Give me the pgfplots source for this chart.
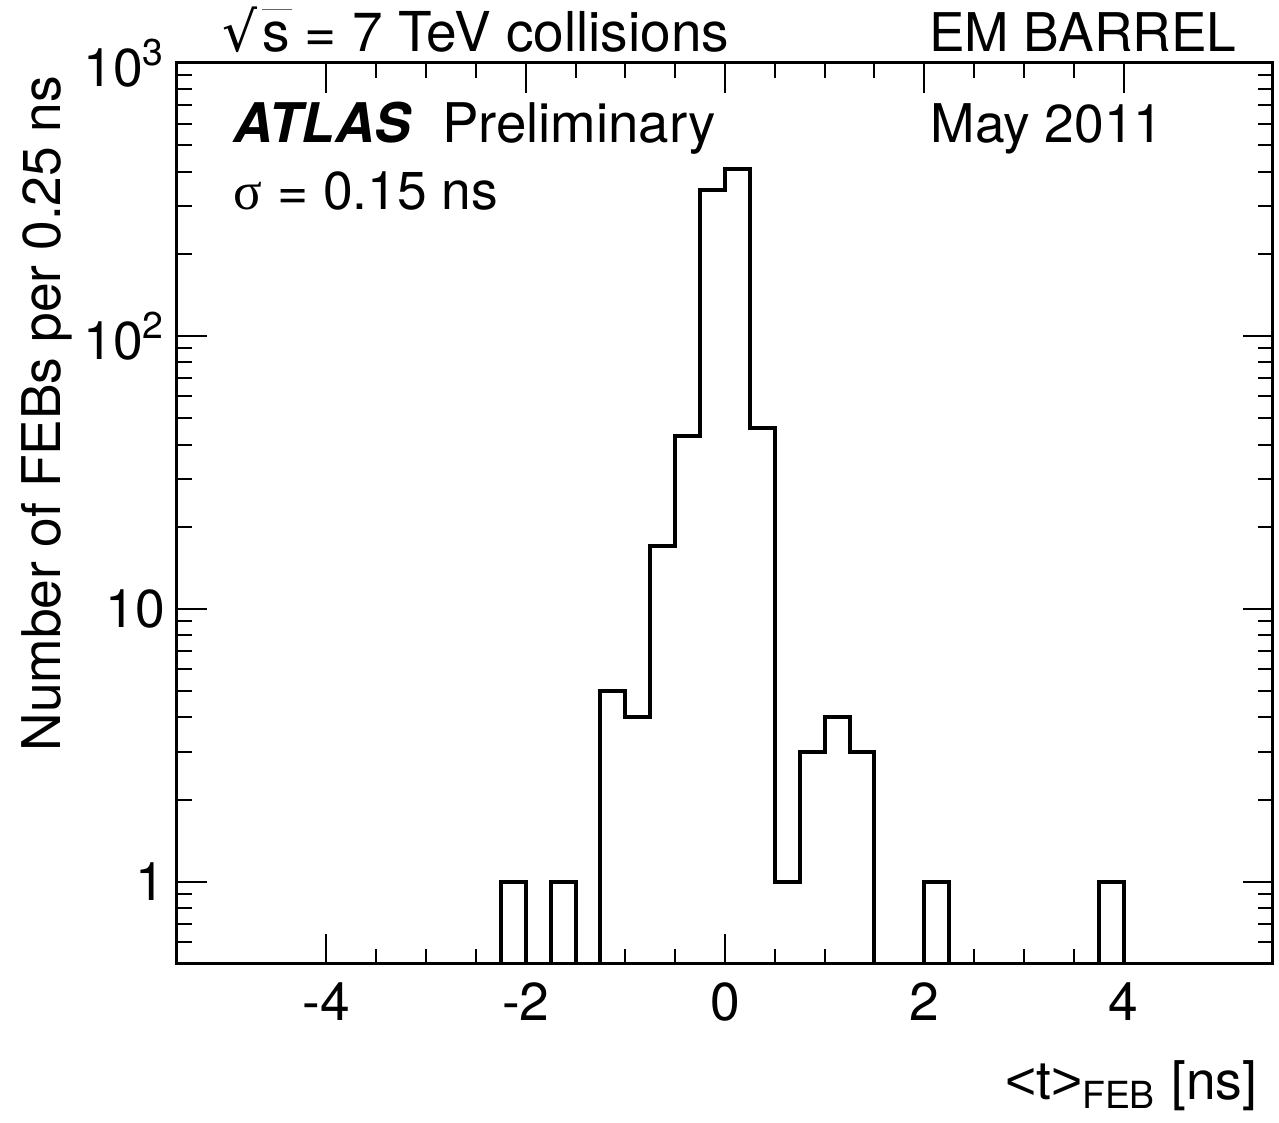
\documentclass[border=0pt]{standalone}
\usepackage{fontspec}
\setmainfont{TeX Gyre Heros}
\newfontfamily\symfont{Liberation Serif}
\newfontfamily\arial{Liberation Sans}
\newfontfamily\dejavu{DejaVu Sans}
\usepackage{pgfplots}
\pgfplotsset{compat=1.18}

\begin{document}
\begin{tikzpicture}[font=\fontsize{16}{19}\selectfont]
% page frame: 1279 x 1123 px at 0.3pt per px, axis box at px (177..1273, 63..964)
\useasboundingbox (-53.1pt,-47.7pt) rectangle (330.6pt,289.2pt);
\begin{axis}[
  at={(0,0)}, anchor=south west, scale only axis,
  width=328.8pt, height=270.3pt,
  xmin=-5.5, xmax=5.5,
  ymode=log, ymin=0.5, ymax=1000,
  xtick={-4,-2,0,2,4}, xticklabels={-4,-2,0,2,4},
  minor x tick num=3,
  ytick={1,10,100,1000},
  yticklabels={1,10,10\textsuperscript{2},10\textsuperscript{3}},
  extra y ticks={0.6,0.7,0.8,0.9},
  extra y tick labels={},
  extra tick style={major tick length=4.5pt},
  tick align=inside,
  major tick length=9pt, minor tick length=4.5pt,
  every tick/.style={black, line width=0.6pt},
  axis line style={line width=0.9pt},
  tick label style={font=\fontsize{16}{19}\selectfont},
  xticklabel style={yshift=-2pt},
  /pgf/number format/assume math mode=true,
]
\addplot[const plot, line width=1.2pt, black] coordinates {
  (-5.5,0.5) (-2.25,1) (-2.0,0.5) (-1.75,1) (-1.5,0.5)
  (-1.25,5) (-1.0,4) (-0.75,17) (-0.5,43) (-0.25,342)
  (0.0,410) (0.25,46) (0.5,1) (0.75,3) (1.0,4) (1.25,3)
  (1.5,0.5) (2.0,1) (2.25,0.5) (3.75,1) (4.0,0.5) (5.5,0.5)
};
\end{axis}

\node[anchor=base west, inner sep=0pt, font=\fontsize{16.5}{19}\selectfont] at (13.5pt,273.6pt) {{\dejavu √}\kern0.08em\rlap{\color{black!60}\rule[12.6pt]{9pt}{0.35pt}}s = 7 TeV collisions};
\node[anchor=base east, inner sep=0pt] at (318pt,273.6pt) {EM BARREL};
\node[anchor=base west, inner sep=0pt, font=\fontsize{16.4}{19}\selectfont] at (16.8pt,246.3pt) {\textbf{\textit{ATLAS}}\hspace{0.55em}Preliminary};
\node[anchor=base west, inner sep=0pt] at (225.9pt,246.3pt) {May 2011};
\node[anchor=base west, inner sep=0pt] at (16.8pt,226.2pt) {{\symfont σ} = 0.15 ns};
\node[anchor=base east, inner sep=0pt, rotate=90] at (-35.1pt,266.7pt) {Number of FEBs per 0.25 ns};
\node[anchor=base east, inner sep=0pt] at (324.3pt,-40.8pt) {{\arial<}t{\arial>}\textsubscript{FEB} [ns]};
\end{tikzpicture}
\end{document}
